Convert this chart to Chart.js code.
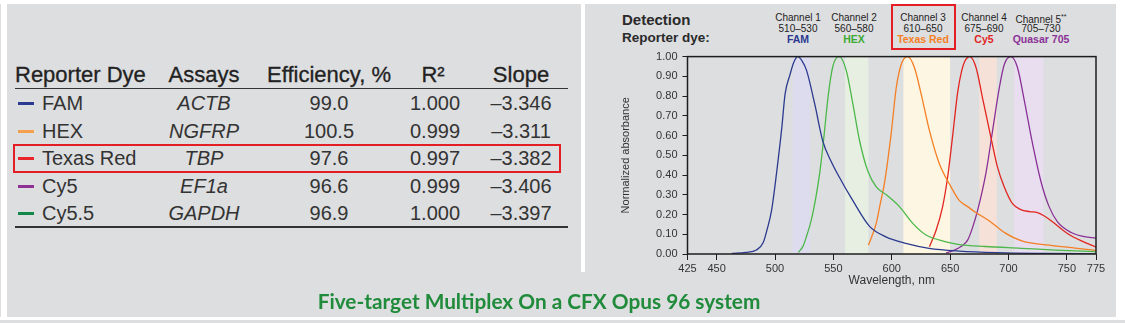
<!DOCTYPE html>
<html lang="en">
<head>
<meta charset="UTF-8">
<title>Five-target Multiplex On a CFX Opus 96 system</title>
<script src="https://cdn.jsdelivr.net/npm/chart.js"></script>
<style>
  * { margin: 0; padding: 0; box-sizing: border-box; }
  body {
    width: 1125px; height: 323px; overflow: hidden; position: relative;
    background: #dddee0; color: #2e2e2e;
    font-family: 'Liberation Sans', Arial, sans-serif;
  }
  .w { position: absolute; background: #fff; }
  .t { position: absolute; white-space: nowrap; line-height: 1; }
  .c { text-align: center; width: 140px; }
  .head { font-size: 22px; color: #222; -webkit-text-stroke: 0.3px #222; }
  .row { font-size: 20px; color: #333; }
  .dash { position: absolute; height: 3px; width: 16px; }
  .rule { position: absolute; left: 15px; width: 553px; height: 1.5px; background: #333; }
  .hl { position: absolute; border: 2.5px solid #e31e24; }
  .ch { position: absolute; width: 80px; text-align: center; font-size: 10px; line-height: 1; color: #222; }
  .dye { font-weight: bold; font-size: 10.5px; }
  #wrap { position: absolute; left: 600px; top: 45px; width: 510px; height: 250px; }
  #caption {
    position: absolute; left: 0; width: 1078px; top: 288px; text-align: center;
    font-family: Lato, 'Open Sans', sans-serif; font-weight: bold; font-size: 20.8px; color: #1f8b3b;
  }
</style>
</head>
<body>
  <div class="w" style="left:0;top:0;width:1125px;height:4px"></div>
  <div class="w" style="left:1px;top:0;width:6px;height:320px"></div>
  <div class="w" style="left:1116px;top:0;width:9px;height:320px"></div>
  <div class="w" style="left:0;top:317px;width:1125px;height:3px"></div>
  <div class="w" style="left:581px;top:0;width:4px;height:272px"></div>

  <div id="table"></div>
  <div id="channels"></div>

  <div class="t" style="left:622px;top:12px;font-size:15px;font-weight:bold;color:#2a2a2a">Detection</div>
  <div class="t" style="left:622px;top:31px;font-size:13.5px;font-weight:bold;color:#2a2a2a">Reporter dye:</div>

  <div id="wrap"><canvas id="spectra" width="510" height="250"></canvas></div>

  <div id="caption">Five-target Multiplex On a CFX Opus 96 system</div>

  <script>
    // table values
    const tableDyes = ['FAM', 'HEX', 'Texas Red', 'Cy5', 'Cy5.5'];
    const tableDash = ['#2b3990', '#f5a04c', '#e8262a', '#8e3094', '#14884a'];
    const tableAssays = ['ACTB', 'NGFRP', 'TBP', 'EF1a', 'GAPDH'];
    const tableEff = ['99.0', '100.5', '97.6', '96.6', '96.9'];
    const tableR2 = ['1.000', '0.999', '0.997', '0.999', '1.000'];
    const tableSlope = ['–3.346', '–3.311', '–3.382', '–3.406', '–3.397'];

    // detection channels
    const channelNames = ['Channel 1', 'Channel 2', 'Channel 3', 'Channel 4', 'Channel 5**'];
    const channelRanges = ['510–530', '560–580', '610–650', '675–690', '705–730'];
    const channelDyes = ['FAM', 'HEX', 'Texas Red', 'Cy5', 'Quasar 705'];
    const channelDyeColors = ['#2b3990', '#3aaa35', '#f47f24', '#e2251f', '#8a3196'];

    // shaded detection bands (nm)
    const bandStart = [515, 560, 610, 675, 705];
    const bandEnd = [530, 580, 650, 690, 730];
    const bandColors = ['#dcdcee', '#e7efe3', '#fdf6e2', '#f6e1d8', '#e8deef'];

    const xTicks = [425, 450, 500, 550, 600, 650, 700, 750, 775];

    // absorbance curves [nm, normalized absorbance]
    const famCurve = [[463, 0.003], [475, 0.008], [484, 0.02], [490, 0.06], [493, 0.12], [497, 0.22],
      [501.5, 0.42], [505.8, 0.64], [508.6, 0.81], [512.9, 0.91], [516, 0.97], [519.5, 1.0], [523, 0.98],
      [527, 0.93], [534, 0.76], [541, 0.57], [548, 0.47], [555, 0.39], [566.7, 0.27], [581, 0.14],
      [595, 0.087], [612, 0.054], [632, 0.029], [658, 0.015], [690, 0.007], [730, 0.003], [775, 0.001]];
    const hexCurve = [[520, 0.008], [524, 0.04], [527, 0.09], [531, 0.17], [534.5, 0.27], [538.5, 0.42],
      [542, 0.6], [545.5, 0.8], [549.5, 0.95], [555, 1.0], [561, 0.93], [566.7, 0.76], [572.4, 0.575],
      [579.5, 0.42], [586.7, 0.34], [595.3, 0.30], [606.6, 0.24], [618, 0.155], [629.4, 0.096],
      [646.5, 0.062], [658, 0.048], [680, 0.038], [710.6, 0.029], [740, 0.02], [775, 0.012]];
    const texasRedCurve = [[580, 0.045], [583, 0.09], [586.7, 0.155], [590, 0.25], [593.8, 0.36],
      [599.5, 0.61], [603.8, 0.84], [608.1, 0.96], [613.7, 1.0], [619.4, 0.945], [625.2, 0.81],
      [632.3, 0.625], [640.8, 0.457], [650.8, 0.34], [658, 0.27], [665, 0.24], [672, 0.21], [683, 0.17],
      [697, 0.107], [712, 0.065], [735, 0.045], [757, 0.03], [775, 0.018]];
    const cy5Curve = [[632.3, 0.037], [638, 0.12], [643.6, 0.24], [647.9, 0.39], [652.2, 0.6],
      [656.5, 0.82], [660, 0.93], [662.5, 0.975], [666.8, 1.0], [672.2, 0.945], [677.8, 0.79], [685, 0.59],
      [690.6, 0.44], [696.4, 0.34], [703.5, 0.255], [710.6, 0.225], [718, 0.215], [724.8, 0.21],
      [730, 0.195], [736.3, 0.17], [750.5, 0.104], [763, 0.065], [775, 0.035]];
    const quasarCurve = [[646.5, 0.005], [653.6, 0.02], [660, 0.04], [665, 0.07], [669, 0.13],
      [673.5, 0.22], [680.7, 0.41], [686.4, 0.625], [692.1, 0.84], [696.4, 0.96], [702.1, 1.0],
      [707.7, 0.945], [713.5, 0.78], [720.6, 0.56], [727.7, 0.37], [734.8, 0.24], [742, 0.163],
      [753.4, 0.11], [763, 0.09], [775, 0.08]];
    const curveColors = ['#2b3a8f', '#4cb849', '#f47f24', '#e2251f', '#8a3196'];

    // ---- table ----
    const table = document.getElementById('table');
    const add = (parent, html) => parent.insertAdjacentHTML('beforeend', html);
    const cols = [204, 329, 435, 521];

    add(table, `<div class="t head" style="left:15px;top:64px">Reporter Dye</div>`);
    ['Assays', 'Efficiency, %', 'R²', 'Slope'].forEach((h, i) => {
      const cx = i === 2 ? 433 : cols[i];
      add(table, `<div class="t c head" style="left:${cx - 70}px;top:64px">${h}</div>`);
    });
    add(table, `<div class="rule" style="top:87.5px"></div>`);
    add(table, `<div class="rule" style="top:226px"></div>`);

    tableDyes.forEach((d, i) => {
      const top = 93 + i * 27.5;
      add(table, `<div class="dash" style="left:18px;top:${top + 9}px;background:${tableDash[i]}"></div>`);
      add(table, `<div class="t row" style="left:42px;top:${top}px">${d}</div>`);
      add(table, `<div class="t c row" style="left:${cols[0] - 70}px;top:${top}px;font-style:italic">${tableAssays[i]}</div>`);
      add(table, `<div class="t c row" style="left:${cols[1] - 70}px;top:${top}px">${tableEff[i]}</div>`);
      add(table, `<div class="t c row" style="left:${cols[2] - 70}px;top:${top}px">${tableR2[i]}</div>`);
      add(table, `<div class="t c row" style="left:${cols[3] - 70}px;top:${top}px">${tableSlope[i]}</div>`);
    });
    add(table, `<div class="hl" style="left:13px;top:144px;width:548px;height:29px"></div>`);

    // ---- channel header ----
    const channels = document.getElementById('channels');
    const chCenters = [798, 854, 923, 984, 1041];
    channelNames.forEach((n, i) => {
      const name = n.replace('**', '<sup style="font-size:7px;vertical-align:4px">**</sup>');
      add(channels, `<div class="ch" style="left:${chCenters[i] - 40}px;top:13px">${name}</div>`);
      add(channels, `<div class="ch" style="left:${chCenters[i] - 40}px;top:24px">${channelRanges[i]}</div>`);
      add(channels, `<div class="ch dye" style="left:${chCenters[i] - 40}px;top:34px;color:${channelDyeColors[i]}">${channelDyes[i]}</div>`);
    });
    add(channels, `<div class="hl" style="left:891px;top:4px;width:65px;height:46px;border-width:2px"></div>`);

    // ---- chart ----
    Chart.defaults.font.family = "'Liberation Sans', Arial, sans-serif";
    Chart.defaults.color = '#333';

    const bandsPlugin = {
      id: 'bands',
      beforeDatasetsDraw(chart) {
        const { ctx, chartArea, scales } = chart;
        ctx.save();
        bandStart.forEach((s, i) => {
          const x0 = scales.x.getPixelForValue(s);
          const x1 = scales.x.getPixelForValue(bandEnd[i]);
          ctx.fillStyle = bandColors[i];
          ctx.fillRect(x0, chartArea.top, x1 - x0, chartArea.bottom - chartArea.top);
        });
        ctx.restore();
      },
      afterDraw(chart) {
        const { ctx, chartArea } = chart;
        ctx.save();
        ctx.strokeStyle = '#1e1e1e';
        ctx.lineWidth = 1.5;
        ctx.strokeRect(chartArea.left, chartArea.top, chartArea.right - chartArea.left, chartArea.bottom - chartArea.top);
        ctx.restore();
      }
    };

    const curves = [famCurve, hexCurve, texasRedCurve, cy5Curve, quasarCurve];

    new Chart(document.getElementById('spectra').getContext('2d'), {
      type: 'line',
      data: {
        datasets: curves.map((c, i) => ({
          label: channelDyes[i],
          data: c.map(p => ({ x: p[0], y: p[1] })),
          borderColor: curveColors[i],
          borderWidth: 1.3,
          pointRadius: 0,
          cubicInterpolationMode: 'monotone',
          fill: false
        }))
      },
      options: {
        responsive: false,
        devicePixelRatio: 1,
        animation: false,
        layout: { padding: { top: 11, right: 14, left: 0, bottom: 0 } },
        plugins: { legend: { display: false }, tooltip: { enabled: false } },
        scales: {
          x: {
            type: 'linear',
            min: 425,
            max: 775,
            afterBuildTicks: axis => { axis.ticks = xTicks.map(v => ({ value: v })); },
            afterFit: axis => { axis.height = 41; },
            grid: { drawOnChartArea: false, tickLength: 6, color: '#1e1e1e' },
            border: { display: false },
            ticks: { autoSkip: false, maxRotation: 0, padding: 2, font: { size: 11 }, color: '#333' },
            title: { display: true, text: 'Wavelength, nm', font: { size: 12 }, color: '#333', padding: { top: 0, bottom: 7 } }
          },
          y: {
            min: 0,
            max: 1,
            afterFit: axis => { axis.width = 87.5; },
            grid: { drawOnChartArea: false, tickLength: 5, color: '#1e1e1e' },
            border: { display: false },
            ticks: { stepSize: 0.1, padding: 5, font: { size: 11 }, color: '#333', callback: v => v.toFixed(2) },
            title: { display: true, text: 'Normalized absorbance', font: { size: 11 }, color: '#333', padding: { top: 19, bottom: 0 } }
          }
        }
      },
      plugins: [bandsPlugin]
    });
  </script>
</body>
</html>
